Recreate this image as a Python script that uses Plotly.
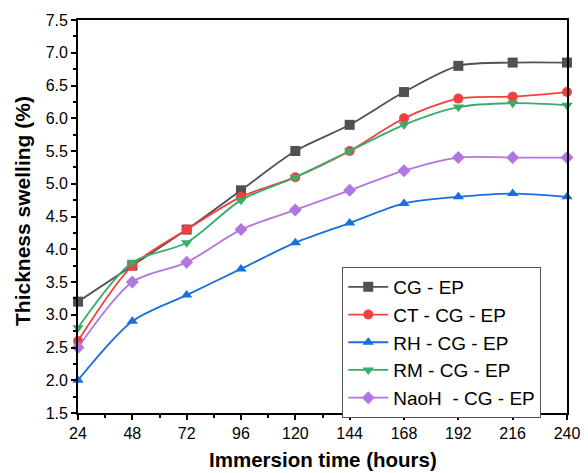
import plotly.graph_objects as go

hours = [24, 48, 72, 96, 120, 144, 168, 192, 216, 240]
cg_ep = [3.2, 3.75, 4.3, 4.9, 5.5, 5.9, 6.4, 6.8, 6.85, 6.85]
ct_cg_ep = [2.6, 3.75, 4.3, 4.8, 5.1, 5.5, 6.0, 6.3, 6.33, 6.4]
rh_cg_ep = [2.0, 2.9, 3.3, 3.7, 4.1, 4.4, 4.7, 4.8, 4.85, 4.8]
rm_cg_ep = [2.8, 3.8, 4.1, 4.75, 5.1, 5.5, 5.9, 6.17, 6.23, 6.2]
naoh_cg_ep = [2.5, 3.5, 3.8, 4.3, 4.6, 4.9, 5.2, 5.4, 5.4, 5.4]

series = [
    ("CG - EP", cg_ep, "#515151", "square"),
    ("CT - CG - EP", ct_cg_ep, "#F14040", "circle"),
    ("RH - CG - EP", rh_cg_ep, "#1A6FDF", "triangle-up"),
    ("RM - CG - EP", rm_cg_ep, "#37AD6B", "triangle-down"),
    ("NaoH  - CG - EP", naoh_cg_ep, "#B177DE", "diamond"),
]

fig = go.Figure()
for name, vals, color, sym in series:
    fig.add_trace(go.Scatter(
        x=hours, y=vals, name=name, mode="lines+markers",
        line=dict(color=color, width=1.8, shape="spline", smoothing=0.8),
        marker=dict(symbol=sym, size=10, color=color),
        cliponaxis=False,
    ))

axis_common = dict(
    showline=True, linecolor="black", linewidth=1.8, mirror=True,
    ticks="outside", ticklen=5, tickwidth=1.5, tickcolor="black",
    showgrid=False, zeroline=False, automargin=False,
    tickfont=dict(family="Arial, Liberation Sans", size=16, color="black"),
)

fig.update_layout(
    width=588, height=473,
    margin=dict(l=78, r=21, t=20, b=60, autoexpand=False),
    paper_bgcolor="white", plot_bgcolor="white",
    font=dict(family="Arial, Liberation Sans", color="black"),
    xaxis=dict(
        range=[24, 240], tickvals=hours,
        minor=dict(dtick=12, tick0=24, ticks="outside", ticklen=3, tickcolor="black", tickwidth=1.5),
        **axis_common,
    ),
    yaxis=dict(
        range=[1.5, 7.5], dtick=0.5, tick0=1.5, tickformat=".1f",
        minor=dict(dtick=0.25, tick0=1.5, ticks="outside", ticklen=3, tickcolor="black", tickwidth=1.5),
        **axis_common,
    ),
    legend=dict(
        x=0.54, y=0.372, xanchor="left", yanchor="top",
        bordercolor="#555555", borderwidth=1.2, bgcolor="white",
        font=dict(family="Arial, Liberation Sans", size=19, color="black"),
        tracegroupgap=0, itemwidth=40,
    ),
    showlegend=True,
    annotations=[
        dict(text="<b>Immersion time (hours)</b>", xref="paper", yref="paper",
             x=0.5, y=-0.118, xanchor="center", yanchor="middle", showarrow=False,
             font=dict(family="Arial, Liberation Sans", size=20.5, color="black")),
        dict(text="<b>Thickness swelling (%)</b>", xref="paper", yref="paper",
             x=-0.1125, y=0.514, xanchor="center", yanchor="middle", showarrow=False,
             textangle=-90,
             font=dict(family="Arial, Liberation Sans", size=21, color="black")),
    ],
)

fig.write_html("out.html")
